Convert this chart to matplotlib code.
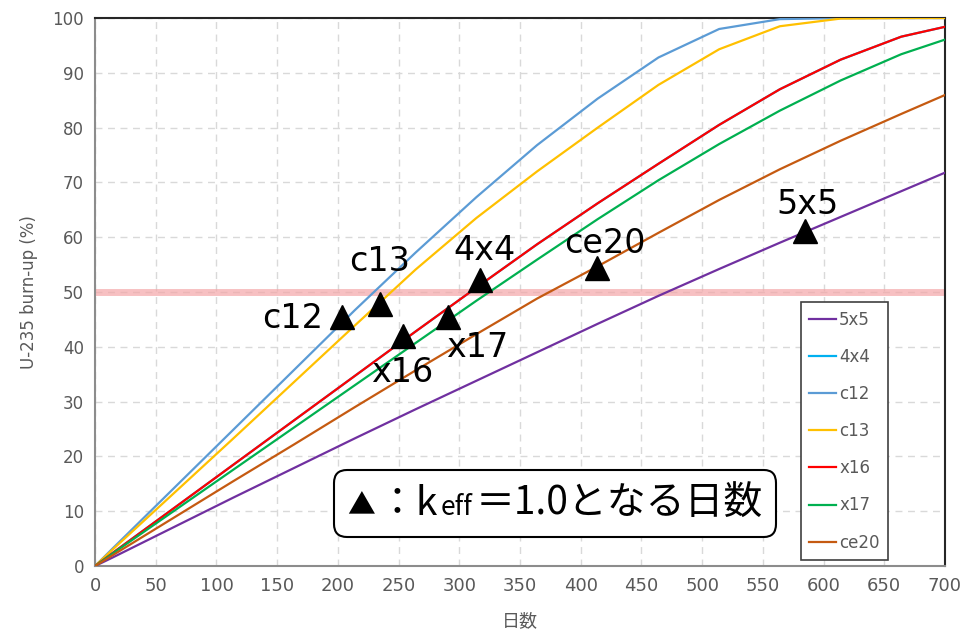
import matplotlib
matplotlib.use("Agg")
import matplotlib.pyplot as plt
from matplotlib.offsetbox import TextArea, HPacker, AnnotationBbox

plt.rcParams['font.family'] = ['DejaVu Sans', 'Noto Sans CJK JP']

# burn-up curves (days vs U-235 burn-up %)
days = [0, 14, 64, 114, 164, 214, 264, 314, 364, 414, 464, 514, 564, 614, 664, 714]

burnup_5x5 = [0, 1.5, 7.0, 12.5, 17.9, 23.3, 28.6, 33.8, 39.0, 44.2, 49.3, 54.2, 59.0, 63.7, 68.4, 73.1]
burnup_c12 = [0, 3.1, 14.0, 24.9, 35.8, 46.7, 57.2, 67.3, 76.8, 85.3, 92.8, 98.0, 99.8, 100, 100, 100]
burnup_c13 = [0, 2.9, 13.1, 23.3, 33.6, 43.9, 54.1, 63.5, 72.0, 80.0, 87.8, 94.3, 98.5, 99.9, 100, 100]
burnup_x16 = [0, 2.3, 10.4, 18.5, 26.6, 34.7, 42.8, 50.8, 58.7, 66.2, 73.4, 80.5, 87.0, 92.4, 96.6, 99.1]
burnup_4x4 = burnup_x16  # hidden under x16 in the original
burnup_x17 = [0, 2.2, 9.9, 17.6, 25.3, 33.0, 40.7, 48.4, 55.9, 63.3, 70.4, 77.0, 83.1, 88.6, 93.4, 97.1]
burnup_ce20 = [0, 1.9, 8.7, 15.5, 22.2, 29.0, 35.7, 42.3, 48.8, 54.7, 60.8, 66.8, 72.4, 77.6, 82.5, 87.3]

series_names = ['5x5', '4x4', 'c12', 'c13', 'x16', 'x17', 'ce20']
series_values = [burnup_5x5, burnup_4x4, burnup_c12, burnup_c13, burnup_x16, burnup_x17, burnup_ce20]
series_colors = ['#7030A0', '#00B0F0', '#5B9BD5', '#FFC000', '#FF0000', '#00B050', '#C55A11']

# keff = 1.0 points
keff_names = ['c12', 'c13', 'x16', 'x17', '4x4', 'ce20', '5x5']
keff_days = [203, 235, 254, 291, 317, 413, 585]
keff_burnup = [45.4, 47.9, 42.0, 45.4, 52.2, 54.3, 61.2]
label_pos = [(163, 45.1), (234, 55.5), (253, 35.4), (315, 39.8), (321, 57.5), (420, 58.9), (587, 65.9)]

fig = plt.figure(figsize=(9.63, 6.44), dpi=100)
ax = fig.add_axes([0.0987, 0.1211, 0.8826, 0.8509])

ax.axhline(50, color='#F4A6A8', lw=5, alpha=0.7, zorder=1)

for name, vals, col in zip(series_names, series_values, series_colors):
    ax.plot(days, vals, color=col, lw=1.6, label=name, zorder=3)

ax.plot(keff_days, keff_burnup, ls='none', marker='^', ms=17, color='black', zorder=5)
for name, (lx, ly) in zip(keff_names, label_pos):
    ax.text(lx, ly, name, fontsize=24, ha='center', va='center', zorder=6)

ax.set_xlim(0, 700)
ax.set_ylim(0, 100)
ax.set_xticks(range(0, 701, 50))
ax.set_yticks(range(0, 101, 10))
ax.grid(True, ls=(0, (5, 4)), color='#D9D9D9', lw=1)
ax.set_axisbelow(True)
ax.tick_params(length=0, colors='#595959', pad=8)
for lab in ax.get_xticklabels():
    lab.set_fontsize(13)
for lab in ax.get_yticklabels():
    lab.set_fontsize(12)
for side in ['top', 'right']:
    ax.spines[side].set_color('#262626')
    ax.spines[side].set_linewidth(1.5)
for side in ['left', 'bottom']:
    ax.spines[side].set_color('#8C8C8C')
    ax.spines[side].set_linewidth(1.5)

ax.set_ylabel('U-235 burn-up (%)', fontsize=12, color='#595959', labelpad=10)
ax.set_xlabel('日数', fontsize=13, color='#595959', family=['Noto Sans CJK JP'], labelpad=12)

leg = ax.legend(loc='lower right', bbox_to_anchor=(0.933, 0.011), borderaxespad=0, fontsize=12,
                labelspacing=1.15, handlelength=1.6, handletextpad=0.2,
                fancybox=False, framealpha=1, edgecolor='#404040', borderpad=0.5)
for t in leg.get_texts():
    t.set_color('#595959')
leg.get_frame().set_linewidth(1.2)

# boxed note: ▲：k_eff＝1.0となる日数
jp = ['Noto Sans CJK JP', 'DejaVu Sans']
p0 = TextArea('▲', textprops=dict(fontsize=20, family=jp))
p1 = TextArea('：k', textprops=dict(fontsize=28, family=jp))
p2 = TextArea('eff', textprops=dict(fontsize=19, family=jp))
p3 = TextArea('＝1.0となる日数', textprops=dict(fontsize=28, family=jp))
note = HPacker(children=[p0, p1, p2, p3], align='baseline', pad=0, sep=2)
ab = AnnotationBbox(note, (379, 11.4), xycoords='data', frameon=True, pad=0.3,
                    bboxprops=dict(boxstyle='round,pad=0.95,rounding_size=0.9',
                                   fc='white', ec='black', lw=1.5), zorder=7)
ax.add_artist(ab)

fig.savefig('out.png', dpi=100)
